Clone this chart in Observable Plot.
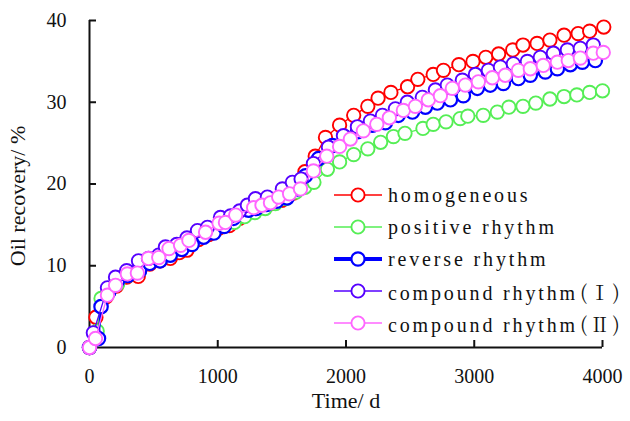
<!DOCTYPE html>
<html>
<head>
<meta charset="utf-8">
<script src="https://cdn.jsdelivr.net/npm/d3@7"></script>
<script src="https://cdn.jsdelivr.net/npm/@observablehq/plot@0.6"></script>
<style>
  html, body { margin: 0; padding: 0; background: #fff; }
  #wrap { position: relative; width: 630px; height: 421px; font-family: "Liberation Serif", "Times New Roman", serif; color: #111; }
  #legend { position: absolute; left: 333px; top: 179px; }
  .row { display: flex; align-items: center; height: 32px; }
  .row .lab { font-size: 20px; letter-spacing: 2.85px; margin-left: 5px; white-space: nowrap; }
  .row .rn { font-family: "Noto Serif CJK SC", "Noto Serif CJK JP", "Noto Sans CJK SC", serif; letter-spacing: 2.6px; margin-left: 2px; }
  #ytitle { position: absolute; left: 18px; top: 196px; transform: translate(-50%, -50%) rotate(-90deg); font-size: 22px; white-space: nowrap; }
</style>
</head>
<body>
<div id="wrap"></div>
<script>
// ---- data ----
const seriesNames = ["homogeneous", "positive rhythm", "reverse rhythm", "compound rhythm (Ⅰ)", "compound rhythm (Ⅱ)"];
const seriesColors = ["#ff0000", "#55ee55", "#0000ff", "#5500ff", "#ff66ff"];

const homogeneousT = [0, 50, 130, 210, 290, 380, 470, 550, 630, 700, 760, 850, 930, 1010, 1090, 1170, 1250, 1330, 1420, 1500, 1590, 1680, 1760, 1840, 1950, 2060, 2170, 2250, 2350, 2480, 2560, 2680, 2760, 2880, 2990, 3090, 3190, 3300, 3380, 3490, 3590, 3700, 3810, 3900, 4010];
const homogeneousV = [0, 3.7, 6.2, 7.5, 8.6, 8.7, 10.2, 10.6, 10.9, 11.6, 11.9, 13.2, 13.8, 14.6, 14.9, 15.8, 16.6, 17.1, 17.6, 18.0, 18.9, 21.5, 23.4, 25.7, 27.2, 28.4, 29.5, 30.5, 31.2, 31.9, 32.8, 33.4, 33.9, 34.6, 35.0, 35.5, 35.9, 36.4, 37.0, 37.2, 37.6, 38.2, 38.4, 38.7, 39.2];

const positiveT = [0, 60, 90, 150, 220, 300, 390, 470, 560, 640, 720, 800, 880, 960, 1050, 1130, 1210, 1290, 1370, 1450, 1530, 1610, 1680, 1750, 1855, 1950, 2060, 2170, 2270, 2370, 2460, 2600, 2680, 2780, 2890, 2950, 3070, 3180, 3270, 3380, 3480, 3590, 3700, 3800, 3900, 4000];
const positiveV = [0, 2.0, 6.0, 6.8, 7.8, 8.8, 9.4, 10.4, 10.9, 11.6, 12.2, 12.8, 13.6, 14.1, 14.9, 15.3, 16.0, 16.5, 17.0, 17.6, 18.2, 19.0, 19.6, 20.2, 21.8, 22.7, 23.6, 24.3, 25.1, 25.8, 26.2, 26.8, 27.3, 27.6, 28.0, 28.3, 28.4, 28.8, 29.4, 29.5, 29.9, 30.4, 30.7, 30.9, 31.2, 31.4];

const reverseT = [0, 70, 90, 150, 220, 300, 390, 470, 550, 630, 720, 800, 890, 970, 1050, 1123, 1240, 1300, 1380, 1460, 1540, 1620, 1684, 1785, 1894, 1995, 2090, 2206, 2307, 2408, 2518, 2619, 2712, 2814, 2915, 3024, 3125, 3227, 3344, 3437, 3554, 3648, 3749, 3843, 3944];
const reverseV = [0, 1.1, 5.0, 6.8, 8.2, 8.8, 9.4, 10.3, 10.6, 11.3, 12.0, 12.6, 13.5, 14.0, 14.8, 15.8, 16.8, 17.0, 17.5, 17.9, 18.3, 19.4, 21.0, 23.1, 24.7, 25.7, 26.4, 27.2, 27.5, 28.4, 28.8, 29.4, 29.9, 30.3, 30.8, 31.7, 32.1, 32.3, 32.9, 33.3, 33.7, 34.1, 34.6, 34.9, 35.1];

const compound1T = [0, 30, 140, 203, 290, 382, 460, 540, 592, 680, 760, 842, 920, 1021, 1100, 1170, 1231, 1294, 1387, 1504, 1582, 1650, 1746, 1863, 1980, 2089, 2190, 2284, 2385, 2478, 2595, 2697, 2790, 2907, 3009, 3110, 3204, 3305, 3414, 3515, 3617, 3726, 3827, 3928];
const compound1V = [0, 1.8, 7.3, 8.6, 9.4, 10.6, 10.9, 11.3, 12.3, 12.6, 13.4, 14.3, 14.7, 15.9, 16.1, 16.7, 17.4, 18.2, 18.4, 19.4, 20.2, 20.6, 22.5, 24.5, 25.9, 27.0, 27.7, 28.4, 29.2, 30.0, 30.6, 31.5, 32.1, 32.7, 33.4, 33.9, 34.3, 34.7, 35.0, 35.5, 36.0, 36.4, 36.6, 37.0];

const compound2T = [0, 47, 140, 203, 295, 373, 460, 540, 620, 710, 775, 905, 1010, 1060, 1140, 1280, 1345, 1411, 1475, 1560, 1645, 1746, 1850, 1950, 2034, 2135, 2240, 2338, 2447, 2541, 2642, 2736, 2829, 2931, 3032, 3141, 3242, 3344, 3437, 3538, 3648, 3733, 3827, 3928, 4006];
const compound2V = [0, 1.1, 6.4, 7.6, 9.0, 9.1, 10.9, 11.0, 12.1, 12.5, 13.1, 14.1, 15.2, 15.3, 16.2, 17.1, 17.4, 17.7, 18.4, 18.8, 19.4, 21.6, 23.4, 24.6, 25.5, 26.5, 27.3, 28.1, 29.0, 29.5, 30.3, 30.8, 31.7, 32.1, 32.5, 33.0, 33.3, 33.9, 34.1, 34.5, 34.9, 35.1, 35.4, 36.0, 36.1];

const xTicks = [0, 1000, 2000, 3000, 4000];
const yTicks = [0, 10, 20, 30, 40];
const xLabel = "Time/ d";
const yLabel = "Oil recovery/ %";

// ---- build ----
const allT = [homogeneousT, positiveT, reverseT, compound1T, compound2T];
const allV = [homogeneousV, positiveV, reverseV, compound1V, compound2V];
const series = seriesNames.map((name, i) => allT[i].map((t, j) => ({series: name, t, v: allV[i][j]})));
const lineWidths = [1.3, 1.3, 2.2, 1.3, 1.3];

const marks = [];
series.forEach((d, i) => {
  marks.push(Plot.line(d, {x: "t", y: "v", stroke: seriesColors[i], strokeWidth: lineWidths[i]}));
  marks.push(Plot.dot(d, {x: "t", y: "v", r: 6.7, fill: "white", stroke: seriesColors[i], strokeWidth: i === 2 ? 2.2 : 1.9}));
});

const chart = Plot.plot({
  width: 630,
  height: 421,
  marginLeft: 89,
  marginRight: 28,
  marginTop: 20,
  marginBottom: 74,
  style: {fontFamily: "'Liberation Serif', 'Times New Roman', serif", background: "white", color: "#111"},
  x: {domain: [0, 4000]},
  y: {domain: [0, 40]},
  marks: [
    Plot.axisX(xTicks, {tickSize: -7, tickPadding: 28, fontSize: 20, stroke: "#111", strokeWidth: 2, letterSpacing: "2.6px", label: null, tickFormat: d => String(d)}),
    Plot.axisY(yTicks, {tickSize: -7, tickPadding: 30, fontSize: 20, stroke: "#111", strokeWidth: 2, letterSpacing: "2.4px", label: null, tickFormat: d => String(d)}),
    Plot.ruleX([0], {stroke: "#111", strokeWidth: 2}),
    Plot.ruleY([0], {stroke: "#111", strokeWidth: 2}),
    Plot.text([xLabel], {frameAnchor: "bottom", dy: 60, fontSize: 22, letterSpacing: "0.8px", fill: "#111"}),
    ...marks
  ]
});

const wrap = document.getElementById("wrap");
wrap.appendChild(chart);

// y title
const yt = document.createElement("div");
yt.id = "ytitle";
yt.textContent = yLabel;
wrap.appendChild(yt);

// legend
const legend = document.createElement("div");
legend.id = "legend";
seriesNames.forEach((name, i) => {
  const row = document.createElement("div");
  row.className = "row";
  const sw = i === 2 ? 4 : 1.6;
  const m = name.match(/^(.*?)\s*\((.)\)$/);
  const labelHtml = m ? `${m[1]}<span class="rn">(${m[2]})</span>` : name;
  row.innerHTML = `<svg width="50" height="20"><line x1="1" y1="10" x2="49" y2="10" stroke="${seriesColors[i]}" stroke-width="${sw}"/><circle cx="25" cy="10" r="6.6" fill="white" stroke="${seriesColors[i]}" stroke-width="${i===2?2.2:1.9}"/></svg><span class="lab">${labelHtml}</span>`;
  legend.appendChild(row);
});
wrap.appendChild(legend);
</script>
</body>
</html>
